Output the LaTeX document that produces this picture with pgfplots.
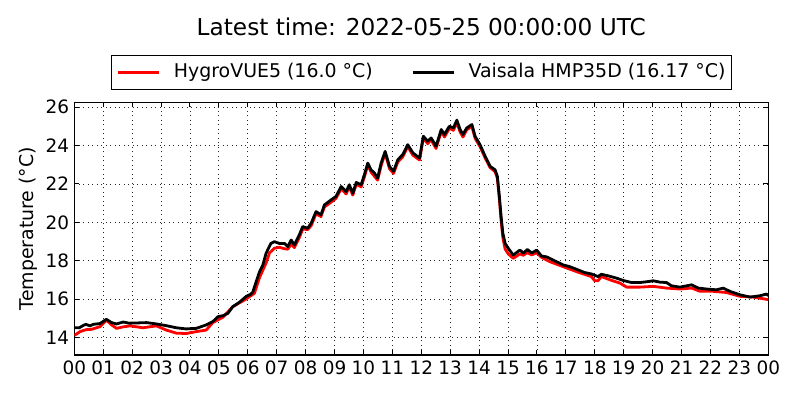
\documentclass[border=0pt]{standalone}
\usepackage{fontspec}
\setmainfont{DejaVu Sans}
\usepackage{pgfplots}
\pgfplotsset{compat=1.18}
\begin{document}
\begin{tikzpicture}
\path[use as bounding box] (-74.3bp,-45bp) rectangle (725.7bp,355bp);
\begin{axis}[
  at={(0,0)}, anchor=south west,
  scale only axis, width=694bp, height=252.7bp,
  xmin=0, xmax=24, ymin=13.08, ymax=26.26,
  xtick={0,1,...,24},
  xticklabels={00,01,02,03,04,05,06,07,08,09,10,11,12,13,14,15,16,17,18,19,20,21,22,23,00},
  ytick={14,16,18,20,22,24,26},
  /pgf/number format/assume math mode=true,
  tick align=inside, xtick pos=both, ytick pos=both,
  major tick length=5bp,
  tick style={black, line width=1bp},
  axis line style={black, line width=1.3bp},
  grid=major,
  grid style={black!85, line width=0.8bp, dash pattern=on 1bp off 3.5bp},
  every tick label/.append style={font=\fontsize{18.5}{20}\selectfont},
  xticklabel style={anchor=base, yshift=-19.3bp, inner sep=0pt},
  yticklabel style={anchor=east, inner sep=0pt, xshift=-5bp},
  ylabel={Temperature (°C)},
  ylabel style={font=\fontsize{19}{22}\selectfont, at={(axis description cs:-0.0585,0.5)}, anchor=base, rotate=0},
  title={Latest time: 2022-05-25 00:00:00 UTC},
  title style={font=\fontsize{23.3}{26}\selectfont, at={(axis description cs:0.5,1)}, anchor=base, yshift=60.6bp, inner sep=0pt},
  legend columns=2,
  legend image code/.code={\draw[#1] (0bp,0bp) -- (41bp,0bp);},
  legend style={at={(axis description cs:0.5,1)}, anchor=south, yshift=12bp,
    draw=black, line width=1bp, inner xsep=5.5bp, inner ysep=8bp,
    font=\fontsize{19}{22}\selectfont,
    nodes={inner sep=0pt, text height=14bp, text depth=4.5bp},
    /tikz/every odd column/.append style={column sep=13bp},
    /tikz/every even column/.append style={column sep=39bp}},
]
\addplot[red, line width=2.8bp, line join=round] coordinates {
(0.00,14.10) (0.10,14.20) (0.20,14.30) (0.40,14.40) (0.60,14.42) (0.89,14.56)
(1.11,14.90) (1.29,14.65) (1.46,14.47) (1.70,14.55) (1.94,14.60) (2.37,14.50)
(2.84,14.60) (3.18,14.38) (3.53,14.22) (3.87,14.20) (4.22,14.30) (4.56,14.38)
(4.79,14.77) (5.14,15.05) (5.48,15.60) (5.94,16.00) (6.23,16.30) (6.40,17.10)
(6.63,17.87) (6.75,18.40) (6.92,18.65) (7.09,18.70) (7.27,18.62) (7.38,18.60)
(7.50,18.85) (7.61,18.68) (7.78,19.20) (7.90,19.65) (8.07,19.62) (8.19,19.82)
(8.36,20.45) (8.53,20.30) (8.65,20.80) (8.88,21.05) (9.05,21.25) (9.23,21.75)
(9.40,21.48) (9.51,21.85) (9.63,21.42) (9.75,21.98) (9.92,21.85) (10.03,22.35)
(10.15,23.00) (10.26,22.62) (10.38,22.40) (10.49,22.20) (10.61,22.95) (10.75,23.60)
(10.90,22.80) (11.04,22.55) (11.19,23.15) (11.36,23.42) (11.53,23.95) (11.71,23.50)
(11.94,23.25) (12.07,24.40) (12.22,24.10) (12.34,24.30) (12.51,23.85) (12.69,24.75)
(12.80,24.45) (12.97,24.90) (13.11,24.80) (13.23,25.20) (13.34,24.72) (13.44,24.45)
(13.57,24.82) (13.75,25.00) (13.86,24.38) (14.03,23.95) (14.21,23.35) (14.38,22.85)
(14.55,22.65) (14.63,22.30) (14.70,21.20) (14.76,20.10) (14.82,19.20) (14.90,18.60)
(15.01,18.35) (15.18,18.12) (15.41,18.35) (15.53,18.28) (15.67,18.42) (15.82,18.30)
(15.99,18.41) (16.16,18.17) (16.44,17.95) (16.90,17.69) (17.42,17.40) (17.88,17.17)
(18.00,16.95) (18.11,16.95) (18.23,17.17) (18.58,16.97) (18.87,16.83) (19.10,16.62)
(19.56,16.62) (20.02,16.66) (20.48,16.57) (20.94,16.52) (21.35,16.57) (21.64,16.40)
(22.10,16.40) (22.55,16.34) (23.02,16.14) (23.48,16.10) (24.00,15.97)
};
\addlegendentry{HygroVUE5 (16.0 °C)}
\addplot[black, line width=2.8bp, line join=round] coordinates {
(0.00,14.50) (0.17,14.50) (0.31,14.62) (0.40,14.68) (0.54,14.60) (0.66,14.68)
(0.89,14.72) (1.11,14.94) (1.29,14.77) (1.46,14.70) (1.69,14.80) (1.90,14.74)
(2.15,14.75) (2.50,14.77) (2.84,14.70) (3.18,14.61) (3.53,14.50) (3.87,14.44)
(4.22,14.47) (4.56,14.65) (4.79,14.82) (4.97,15.08) (5.14,15.13) (5.31,15.25)
(5.48,15.60) (5.71,15.83) (5.94,16.13) (6.10,16.25) (6.17,16.35) (6.29,16.90)
(6.40,17.40) (6.52,17.77) (6.63,18.38) (6.80,18.90) (6.92,18.99) (7.09,18.90)
(7.27,18.90) (7.38,18.73) (7.50,19.08) (7.61,18.82) (7.78,19.34) (7.90,19.78)
(8.07,19.69) (8.19,19.95) (8.36,20.56) (8.53,20.39) (8.65,20.91) (8.88,21.17)
(9.05,21.35) (9.23,21.87) (9.40,21.60) (9.51,21.96) (9.63,21.52) (9.75,22.08)
(9.92,21.96) (10.03,22.48) (10.15,23.09) (10.26,22.74) (10.38,22.57) (10.49,22.31)
(10.61,23.09) (10.75,23.70) (10.90,22.92) (11.04,22.66) (11.19,23.27) (11.36,23.53)
(11.53,24.05) (11.71,23.62) (11.94,23.35) (12.07,24.49) (12.22,24.23) (12.34,24.40)
(12.51,23.97) (12.69,24.84) (12.80,24.58) (12.97,25.01) (13.11,24.92) (13.23,25.33)
(13.34,24.84) (13.44,24.58) (13.57,24.92) (13.75,25.10) (13.86,24.49) (14.03,24.05)
(14.21,23.44) (14.38,22.92) (14.55,22.74) (14.63,22.40) (14.70,21.35) (14.76,20.30)
(14.82,19.43) (14.90,18.90) (15.01,18.64) (15.18,18.29) (15.41,18.55) (15.53,18.40)
(15.67,18.58) (15.82,18.40) (15.99,18.55) (16.16,18.24) (16.33,18.20) (16.44,18.12)
(16.67,17.95) (16.90,17.78) (17.13,17.69) (17.42,17.52) (17.65,17.38) (17.88,17.31)
(18.11,17.17) (18.23,17.29) (18.46,17.21) (18.75,17.09) (18.98,16.97) (19.27,16.86)
(19.56,16.86) (19.85,16.91) (20.02,16.95) (20.25,16.88) (20.48,16.86) (20.65,16.69)
(20.94,16.62) (21.35,16.74) (21.58,16.57) (21.87,16.52) (22.21,16.48) (22.44,16.57)
(22.67,16.40) (23.02,16.22) (23.37,16.10) (23.71,16.17) (23.94,16.26) (24.00,16.17)
};
\addlegendentry{Vaisala HMP35D (16.17 °C)}
\end{axis}
\end{tikzpicture}
\end{document}
